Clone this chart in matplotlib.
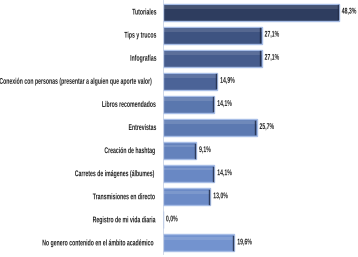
import matplotlib.pyplot as plt
import numpy as np
from matplotlib.patheffects import AbstractPathEffect
from matplotlib.transforms import Affine2D

categorias = ["Tutoriales", "Tips y trucos", "Infografías",
              "Conexión con personas (presentar a alguien que aporte valor)",
              "Libros recomendados", "Entrevistas", "Creación de hashtag",
              "Carretes de imágenes (álbumes)", "Transmisiones en directo",
              "Registro de mi vida diaria",
              "No genero contenido en el ámbito académico"]
valores = [48.3, 27.1, 27.1, 14.9, 14.1, 25.7, 9.1, 14.1, 13.0, 0.0, 19.6]
colores = ["#2e3d5f", "#3e5381", "#465c8d", "#4b6397", "#5a77ae", "#5c79b1",
           "#6482bc", "#6988c4", "#6b8ac6", "#7090cc", "#7393cf"]


class Estrecho(AbstractPathEffect):
    # comprime el texto en horizontal (la fuente original es estrecha)
    def __init__(self, sx, derecha=False):
        super().__init__()
        self.sx = sx
        self.derecha = derecha

    def draw_path(self, renderer, gc, tpath, affine, rgbFace=None):
        x0 = tpath.vertices[:, 0].max() if self.derecha and len(tpath.vertices) else 0
        t = Affine2D().translate(-x0, 0).scale(self.sx, 1).translate(x0, 0) + affine
        renderer.draw_path(gc, tpath, t, rgbFace)


fig = plt.figure(figsize=(3.58, 2.57), dpi=100)
ax = fig.add_axes([163/358, 2.5/257, 1 - 163/358, 254/257])

y = np.arange(len(categorias))
ax.barh(y, valores, height=0.74, color=colores, edgecolor="#a7bde6", linewidth=1.0)
# brillo superior y sombra en el extremo
ax.barh(y - 0.2, valores, height=0.12, color="white", alpha=0.12, linewidth=0)
for i, v in enumerate(valores):
    if v > 0:
        ax.plot([v - 0.35, v - 0.35], [i - 0.3, i + 0.3], color="#1c2640", lw=1.0, alpha=0.8)

fuente = "Liberation Sans"
sx = 0.62
for i, v in enumerate(valores):
    ax.text(v + 0.8, i, f"{v:.1f}%".replace(".", ","), va="center", ha="left",
            fontsize=6, family=fuente, weight="bold", color="#1e1e1e",
            path_effects=[Estrecho(sx)])

ax.set_yticks(y)
etiquetas = ax.set_yticklabels(categorias, fontsize=6, family=fuente, weight="bold",
                               color="#1e1e1e")
for t in etiquetas:
    t.set_path_effects([Estrecho(sx, derecha=True)])
ax.tick_params(axis="y", length=0, pad=4)
ax.set_xticks([])
ax.set_xlim(0, (358 - 163) / 3.64)
ax.set_ylim(len(categorias) - 0.5, -0.5)
for s in ["top", "right", "bottom"]:
    ax.spines[s].set_visible(False)
ax.spines["left"].set_color("#c9d3e6")
ax.spines["left"].set_linewidth(0.6)

fig.savefig("out.png", dpi=100)
